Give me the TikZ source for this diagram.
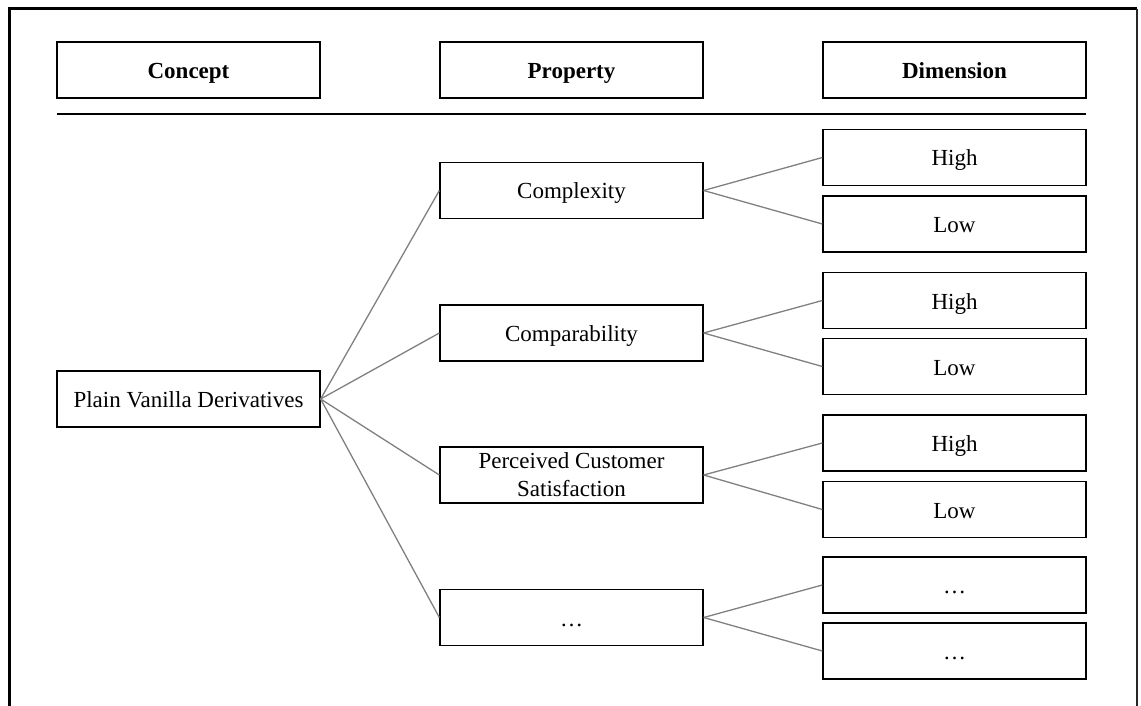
\documentclass[tikz,border=0pt]{standalone}
\usepackage{fontspec}
\setmainfont{Liberation Serif}
\usepackage{tikz}
\usetikzlibrary{positioning,calc}

\tikzset{
    cellbox/.style={draw, line width=1.3pt, minimum width=263pt, minimum height=56pt, inner sep=1pt, align=center, text height=20pt, text depth=3pt, font=\fontsize{23}{28}\selectfont},
    headbox/.style={cellbox, font=\fontsize{23}{28}\selectfont\bfseries},
    branch/.style={draw=black!50, line width=1.3pt}
}

\begin{document}
\begin{tikzpicture}[x=1pt, y=-1pt]
    \useasboundingbox (0,0) rectangle (1141,706);
    % outer frame, bottom edge cut off
    \draw [line width=3pt] (9,706) -- (9,9) -- (1137,9);
    \draw [line width=1.5pt, black!85] (1137,9) -- (1137,706);

    % header row
    \node [headbox] (concepthead) at (188.5,70) {Concept};
    \node [headbox] (prophead) at (571.5,70) {Property};
    \node [headbox] (dimhead) at (954.5,70) {Dimension};
    \draw [line width=1.4pt] (57,114) -- (1086,114);

    % concept
    \node [cellbox] (concept) at (188.5,399) {Plain Vanilla Derivatives};

    % properties
    \node [cellbox] (prop1) at (571.5,190.5) {Complexity};
    \node [cellbox] (prop2) at (571.5,333) {Comparability};
    \node [cellbox, text height=, text depth=] (prop3) at (571.5,475) {Perceived Customer\\Satisfaction};
    \node [cellbox] (prop4) at (571.5,617.5) {…};

    % dimensions
    \node [cellbox] (high1) at (954.5,157.5) {High};
    \node [cellbox] (low1) at (954.5,224) {Low};
    \node [cellbox] (high2) at (954.5,300.5) {High};
    \node [cellbox] (low2) at (954.5,366.5) {Low};
    \node [cellbox] (high3) at (954.5,443) {High};
    \node [cellbox] (low3) at (954.5,509.5) {Low};
    \node [cellbox] (high4) at (954.5,585) {…};
    \node [cellbox] (low4) at (954.5,651) {…};

    % branches
    \foreach \i in {1,...,4} {
        \draw [branch] (concept.east) -- (prop\i.west);
        \draw [branch] (prop\i.east) -- (high\i.west);
        \draw [branch] (prop\i.east) -- (low\i.west);
    }
\end{tikzpicture}
\end{document}
